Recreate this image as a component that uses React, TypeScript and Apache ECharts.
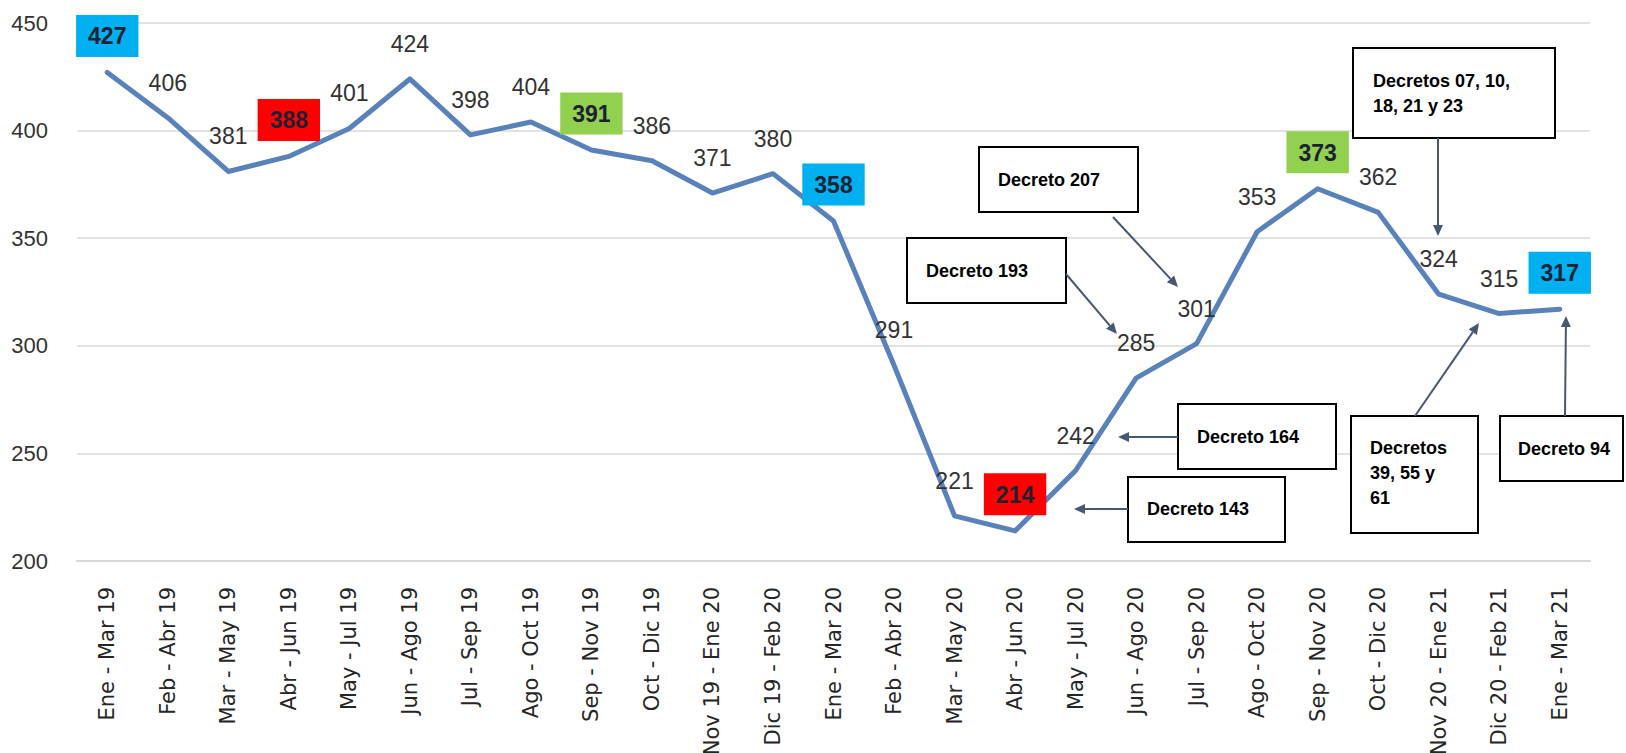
import React, { useEffect, useRef } from "react";
import * as echarts from "echarts";

const categories: string[] = [
  "Ene - Mar 19", "Feb - Abr 19", "Mar - May 19", "Abr - Jun 19", "May - Jul 19",
  "Jun - Ago 19", "Jul - Sep 19", "Ago - Oct 19", "Sep - Nov 19", "Oct - Dic 19",
  "Nov 19 - Ene 20", "Dic 19 - Feb 20", "Ene - Mar 20", "Feb - Abr 20", "Mar - May 20",
  "Abr - Jun 20", "May - Jul 20", "Jun - Ago 20", "Jul - Sep 20", "Ago - Oct 20",
  "Sep - Nov 20", "Oct - Dic 20", "Nov 20 - Ene 21", "Dic 20 - Feb 21", "Ene - Mar 21",
];

const values: number[] = [
  427, 406, 381, 388, 401, 424, 398, 404, 391, 386, 371, 380, 358,
  291, 221, 214, 242, 285, 301, 353, 373, 362, 324, 315, 317,
];

const blueHighlights: number[] = [0, 12, 24];
const redHighlights: number[] = [3, 15];
const greenHighlights: number[] = [8, 20];

const yMin = 200;
const yMax = 450;
const yInterval = 50;

type Note = {
  lines: string[];
  box: [number, number, number, number];
  textPos: [number, number];
  arrow: [number, number, number, number];
};

const notes: Note[] = [
  { lines: ["Decreto 207"], box: [979, 147, 159, 65], textPos: [998, 180], arrow: [1113, 217, 1178, 287] },
  { lines: ["Decreto 193"], box: [907, 238, 159, 65], textPos: [926, 271], arrow: [1066, 274, 1117, 334] },
  { lines: ["Decreto 164"], box: [1178, 404, 158, 65], textPos: [1197, 437], arrow: [1178, 437, 1118, 437] },
  { lines: ["Decreto 143"], box: [1128, 477, 157, 65], textPos: [1147, 509], arrow: [1128, 509, 1074, 509] },
  { lines: ["Decretos", "39, 55 y", "61"], box: [1351, 416, 127, 117], textPos: [1370, 473], arrow: [1415, 416, 1479, 323] },
  { lines: ["Decreto 94"], box: [1500, 416, 123, 65], textPos: [1518, 449], arrow: [1565, 416, 1566, 316] },
  { lines: ["Decretos 07, 10,", "18, 21 y 23"], box: [1353, 48, 202, 90], textPos: [1373, 93], arrow: [1438, 138, 1438, 236] },
];

const arrowColor = "#475872";

function arrowGraphics(a: [number, number, number, number]) {
  const [x1, y1, x2, y2] = a;
  const dx = x2 - x1;
  const dy = y2 - y1;
  const len = Math.sqrt(dx * dx + dy * dy);
  const ux = dx / len;
  const uy = dy / len;
  const headLen = 11;
  const headHalf = 5;
  const bx = x2 - ux * headLen;
  const by = y2 - uy * headLen;
  const px = -uy;
  const py = ux;
  return [
    {
      type: "line",
      shape: { x1, y1, x2: bx, y2: by },
      style: { stroke: arrowColor, lineWidth: 2 },
      z: 10,
    },
    {
      type: "polygon",
      shape: {
        points: [
          [x2, y2],
          [bx + px * headHalf, by + py * headHalf],
          [bx - px * headHalf, by - py * headHalf],
        ],
      },
      style: { fill: arrowColor },
      z: 10,
    },
  ];
}

export default function App() {
  const ref = useRef<HTMLDivElement>(null);

  useEffect(() => {
    if (!ref.current) return;
    const chart = echarts.init(ref.current, undefined, { renderer: "svg" });

    const boxFor = (i: number): string | null => {
      if (blueHighlights.includes(i)) return "#00B0F0";
      if (redHighlights.includes(i)) return "#FF0000";
      if (greenHighlights.includes(i)) return "#92D050";
      return null;
    };

    const seriesData = values.map((v, i) => {
      const bg = boxFor(i);
      if (!bg) return { value: v };
      return {
        value: v,
        label: {
          backgroundColor: bg,
          padding: [10, 12, 9, 12],
          fontWeight: "bold",
          color: "#1b2233",
          distance: 15,
        },
      };
    });

    const graphics: any[] = [];
    notes.forEach((n) => {
      graphics.push({
        type: "rect",
        shape: { x: n.box[0], y: n.box[1], width: n.box[2], height: n.box[3] },
        style: { fill: "#ffffff", stroke: "#000000", lineWidth: 2 },
        z: 9,
      });
      graphics.push({
        type: "text",
        x: n.textPos[0],
        y: n.textPos[1],
        style: {
          text: n.lines.join("\n"),
          font: "bold 18px 'Liberation Sans', Arial, sans-serif",
          fill: "#000000",
          lineHeight: 25,
          verticalAlign: "middle",
          align: "left",
        },
        z: 11,
      });
      arrowGraphics(n.arrow).forEach((g) => graphics.push(g));
    });

    chart.setOption({
      animation: false,
      backgroundColor: "#ffffff",
      grid: {
        left: 77,
        right: 36,
        top: 23,
        bottom: 192,
        containLabel: false,
        outerBoundsMode: "none",
      },
      xAxis: {
        type: "category",
        data: categories,
        boundaryGap: true,
        axisLine: { lineStyle: { color: "#d9d9d9", width: 2 } },
        axisTick: { show: false },
        axisLabel: {
          interval: 0,
          rotate: 90,
          margin: 26,
          fontSize: 21,
          fontFamily: "DejaVu Sans",
          color: "#262626",
        },
      },
      yAxis: {
        type: "value",
        min: yMin,
        max: yMax,
        interval: yInterval,
        axisLine: { show: false },
        axisTick: { show: false },
        splitLine: { lineStyle: { color: "#d9d9d9", width: 1.5 } },
        axisLabel: {
          fontSize: 22,
          margin: 29,
          fontFamily: "'Liberation Sans', Arial, sans-serif",
          color: "#333333",
        },
      },
      series: [
        {
          type: "line",
          data: seriesData,
          symbol: "circle",
          symbolSize: 1,
          itemStyle: { color: "#5A82BA" },
          lineStyle: { color: "#5A82BA", width: 5, cap: "round", join: "round" },
          label: {
            show: true,
            position: "top",
            distance: 23,
            fontSize: 23,
            fontFamily: "'Liberation Sans', Arial, sans-serif",
            color: "#333333",
          },
          z: 3,
        },
      ],
      graphic: graphics,
    });

    return () => {
      chart.dispose();
    };
  }, []);

  return (
    <div
      ref={ref}
      style={{ position: "fixed", left: 0, top: 0, width: 1626, height: 753, background: "#fff" }}
    />
  );
}
